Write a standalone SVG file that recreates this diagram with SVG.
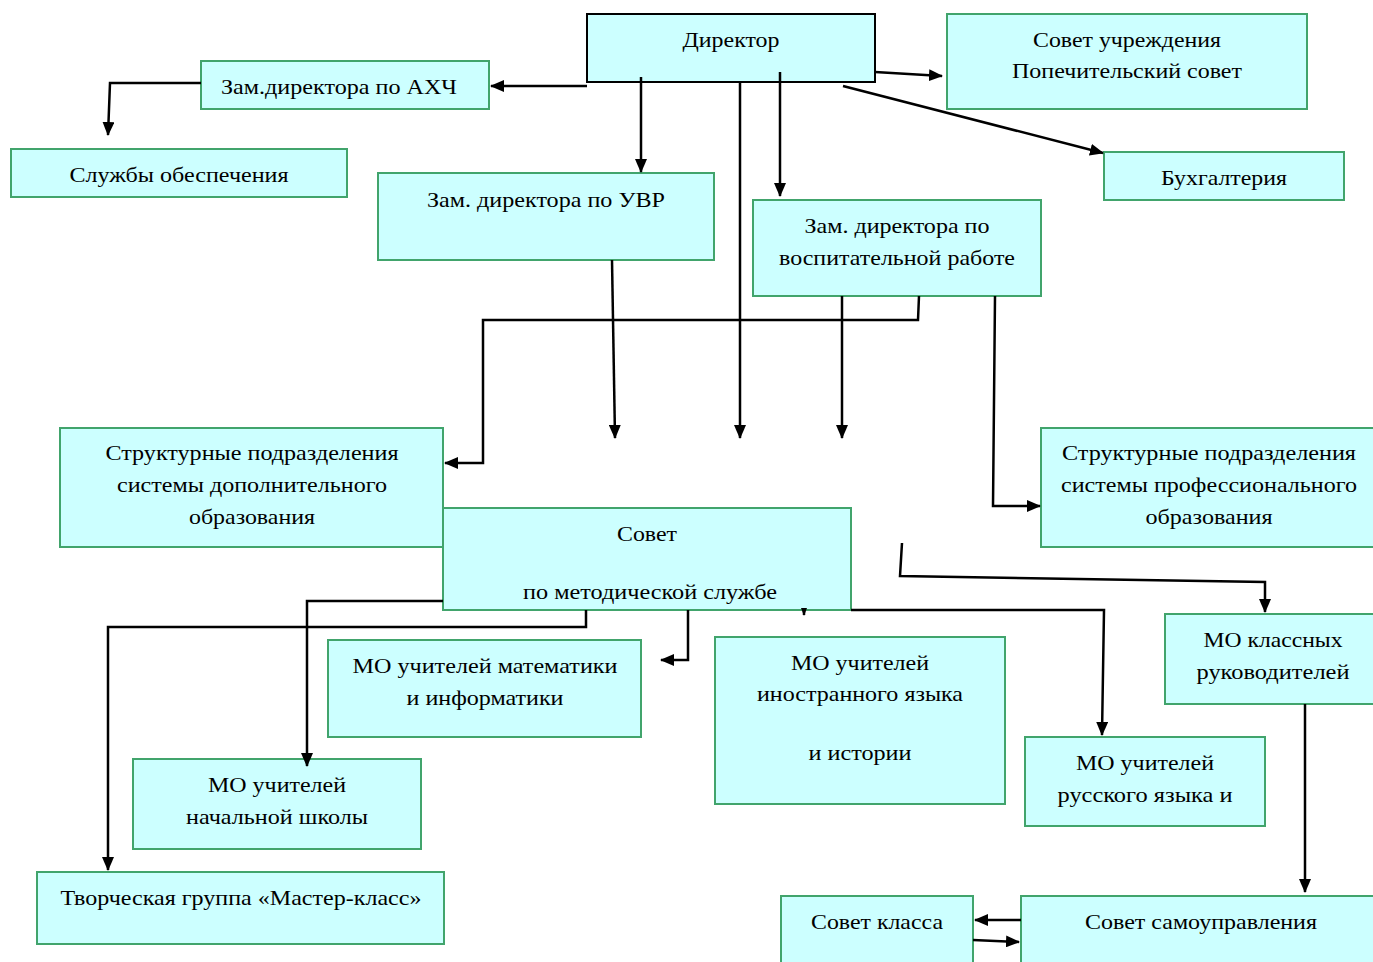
<svg xmlns="http://www.w3.org/2000/svg" width="1373" height="962" viewBox="0 0 1373 962">
<style>
.n{fill:#ccffff;stroke:#41a46c;stroke-width:2}
.d{fill:#ccffff;stroke:#000;stroke-width:2}
text{font-family:"Liberation Serif","Times New Roman",serif;font-size:21.5px;fill:#000;text-anchor:middle}
.c path{fill:none;stroke:#000;stroke-width:2.5;marker-end:url(#ah)}
.c path.s{marker-end:url(#ahs)}
</style>
<defs>
<marker id="ah" markerUnits="userSpaceOnUse" markerWidth="14" markerHeight="12" refX="13" refY="6" orient="auto">
<path d="M0,0 L14,6 L0,12 z" fill="#000"/>
</marker>
<marker id="ahs" markerUnits="userSpaceOnUse" markerWidth="8" markerHeight="6" refX="7" refY="3" orient="auto">
<path d="M0,0 L8,3 L0,6 z" fill="#000"/>
</marker>
</defs>
<rect width="1373" height="962" fill="#fff"/>
<g id="director"><rect class="d" x="587" y="14" width="288" height="68"/><text x="731" y="47" textLength="97" lengthAdjust="spacingAndGlyphs">Директор</text></g>
<g id="sovet-uchr"><rect class="n" x="947" y="14" width="360" height="95"/><text x="1127" y="47" textLength="188" lengthAdjust="spacingAndGlyphs">Совет учреждения</text><text x="1127" y="78" textLength="230" lengthAdjust="spacingAndGlyphs">Попечительский совет</text></g>
<g id="ahch"><rect class="n" x="201" y="61" width="288" height="48"/><text x="339" y="94" textLength="236" lengthAdjust="spacingAndGlyphs">Зам.директора по АХЧ</text></g>
<g id="sluzhby"><rect class="n" x="11" y="149" width="336" height="48"/><text x="179" y="182" textLength="219" lengthAdjust="spacingAndGlyphs">Службы обеспечения</text></g>
<g id="uvr"><rect class="n" x="378" y="173" width="336" height="87"/><text x="546" y="207" textLength="238" lengthAdjust="spacingAndGlyphs">Зам. директора по УВР</text></g>
<g id="buh"><rect class="n" x="1104" y="152" width="240" height="48"/><text x="1224" y="185" textLength="126" lengthAdjust="spacingAndGlyphs">Бухгалтерия</text></g>
<g id="vosp"><rect class="n" x="753" y="200" width="288" height="96"/><text x="897" y="233" textLength="185" lengthAdjust="spacingAndGlyphs">Зам. директора по</text><text x="897" y="265" textLength="236" lengthAdjust="spacingAndGlyphs">воспитательной работе</text></g>
<g id="dop"><rect class="n" x="60" y="428" width="383" height="119"/><text x="252" y="460" textLength="293" lengthAdjust="spacingAndGlyphs">Структурные подразделения</text><text x="252" y="492" textLength="270" lengthAdjust="spacingAndGlyphs">системы дополнительного</text><text x="252" y="524" textLength="126" lengthAdjust="spacingAndGlyphs">образования</text></g>
<g id="prof"><rect class="n" x="1041" y="428" width="340" height="119"/><text x="1209" y="460" textLength="294" lengthAdjust="spacingAndGlyphs">Структурные подразделения</text><text x="1209" y="492" textLength="296" lengthAdjust="spacingAndGlyphs">системы профессионального</text><text x="1209" y="524" textLength="127" lengthAdjust="spacingAndGlyphs">образования</text></g>
<g id="metod"><rect class="n" x="443" y="508" width="408" height="102"/><text x="647" y="541" textLength="60" lengthAdjust="spacingAndGlyphs">Совет</text><text x="650" y="599" textLength="254" lengthAdjust="spacingAndGlyphs">по методической службе</text></g>
<g id="mo-mat"><rect class="n" x="328" y="640" width="313" height="97"/><text x="485" y="673" textLength="265" lengthAdjust="spacingAndGlyphs">МО учителей математики</text><text x="485" y="705" textLength="157" lengthAdjust="spacingAndGlyphs">и информатики</text></g>
<g id="mo-in"><rect class="n" x="715" y="637" width="290" height="167"/><text x="860" y="670" textLength="138" lengthAdjust="spacingAndGlyphs">МО учителей</text><text x="860" y="701" textLength="206" lengthAdjust="spacingAndGlyphs">иностранного языка</text><text x="860" y="760" textLength="103" lengthAdjust="spacingAndGlyphs">и истории</text></g>
<g id="mo-kl"><rect class="n" x="1165" y="614" width="216" height="90"/><text x="1273" y="647" textLength="139" lengthAdjust="spacingAndGlyphs">МО классных</text><text x="1273" y="679" textLength="153" lengthAdjust="spacingAndGlyphs">руководителей</text></g>
<g id="mo-nach"><rect class="n" x="133" y="759" width="288" height="90"/><text x="277" y="792" textLength="138" lengthAdjust="spacingAndGlyphs">МО учителей</text><text x="277" y="824" textLength="182" lengthAdjust="spacingAndGlyphs">начальной школы</text></g>
<g id="mo-rus"><rect class="n" x="1025" y="737" width="240" height="89"/><text x="1145" y="770" textLength="138" lengthAdjust="spacingAndGlyphs">МО учителей</text><text x="1145" y="802" textLength="175" lengthAdjust="spacingAndGlyphs">русского языка и</text></g>
<g id="tvorch"><rect class="n" x="37" y="872" width="407" height="72"/><text x="241" y="905" textLength="361" lengthAdjust="spacingAndGlyphs">Творческая группа «Мастер-класс»</text></g>
<g id="sovet-kl"><rect class="n" x="781" y="896" width="192" height="80"/><text x="877" y="929" textLength="132" lengthAdjust="spacingAndGlyphs">Совет класса</text></g>
<g id="sovet-samo"><rect class="n" x="1021" y="896" width="360" height="80"/><text x="1201" y="929" textLength="232" lengthAdjust="spacingAndGlyphs">Совет самоуправления</text></g>
<g id="connectors" class="c">
<path d="M587,86 H491"/>
<path d="M201,83 H110 L108,135"/>
<path d="M641,77 V172"/>
<path d="M780,72 V196"/>
<path d="M875,72 L942,76"/>
<path d="M843,86 L1103,153"/>
<path d="M740,82 V438"/>
<path d="M612,260 L615,438"/>
<path d="M842,296 V438"/>
<path d="M919,296 L918,320 H483 V463 H445"/>
<path d="M995,296 L993,506 H1040"/>
<path d="M902,543 L900,576 L1265,582 V612"/>
<path d="M443,601 H307 V766"/>
<path d="M586,610 V627 H108 V870"/>
<path d="M688,610 V660 H661"/>
<path class="s" d="M804,608 V615"/>
<path d="M851,610 H1104 L1102,735"/>
<path d="M1305,704 V892"/>
<path d="M1021,920 H975"/>
<path d="M973,940 L1019,942"/>
</g>
</svg>
